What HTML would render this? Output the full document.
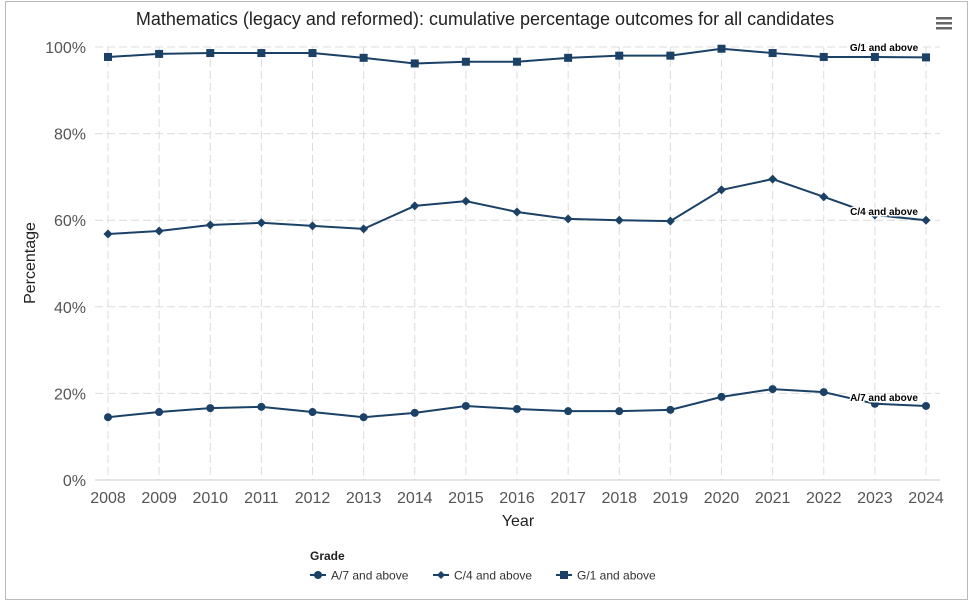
<!DOCTYPE html>
<html><head><meta charset="utf-8"><style>
body{margin:0;background:#fff;font-family:"Liberation Sans",Arial,sans-serif}
</style></head><body>
<svg id="s" width="970" height="605" xmlns="http://www.w3.org/2000/svg" font-family="Liberation Sans, Arial, sans-serif"></svg>
<script>
const s=document.getElementById('s');let h='';
h+='<rect x="5.5" y="1.5" width="962" height="598" fill="#fff" stroke="#bbb"/>';
const X=i=>108+i*51.125, Y=v=>480-v*4.33;
for(let v=20;v<=100;v+=20)h+=`<line x1="95" x2="940" y1="${Y(v)}" y2="${Y(v)}" stroke="#dcdcdc" stroke-dasharray="8,4"/>`;
for(let i=0;i<17;i++)h+=`<line x1="${X(i)}" x2="${X(i)}" y1="${Y(100)}" y2="480" stroke="#dcdcdc" stroke-dasharray="8,4"/>`;
h+='<line x1="95" x2="940" y1="480" y2="480" stroke="#ccc"/>';
for(let v=0;v<=100;v+=20)h+=`<text x="86" y="${Y(v)+6}" text-anchor="end" font-size="16" fill="#555">${v}%</text>`;
for(let i=0;i<17;i++){h+=`<text x="${X(i)}" y="503" text-anchor="middle" font-size="16" fill="#555">${2008+i}</text>`;}
const G=[97.7,98.4,98.6,98.6,98.6,97.5,96.2,96.6,96.6,97.5,98.0,98.0,99.6,98.6,97.7,97.7,97.6];
const C=[56.8,57.5,58.9,59.4,58.7,58.0,63.3,64.4,61.9,60.3,60.0,59.8,67.0,69.5,65.4,61.2,60.0];
const A=[14.5,15.7,16.6,16.9,15.7,14.5,15.5,17.1,16.4,15.9,15.9,16.2,19.2,21.0,20.3,17.6,17.1];
const col='#1b4166';
function ser(d,m){h+=`<polyline fill="none" stroke="${col}" stroke-width="2" points="${d.map((v,i)=>X(i)+','+Y(v)).join(' ')}"/>`;
d.forEach((v,i)=>{const x=X(i),y=Y(v);
if(m==0)h+=`<circle cx="${x}" cy="${y}" r="4" fill="${col}"/>`;
else if(m==1)h+=`<path d="M${x} ${y-4.5}L${x+4.5} ${y}L${x} ${y+4.5}L${x-4.5} ${y}Z" fill="${col}"/>`;
else h+=`<rect x="${x-4}" y="${y-4}" width="8" height="8" fill="${col}"/>`;});}
ser(A,0);ser(C,1);ser(G,2);
const lab=(t,x,y)=>h+=`<text x="${x}" y="${y}" text-anchor="middle" font-size="10" font-weight="bold" stroke="#fff" stroke-width="3" paint-order="stroke" fill="#000">${t}</text>`;
lab('G/1 and above',884,51);lab('C/4 and above',884,215);lab('A/7 and above',884,401);
h+='<text x="485" y="25" text-anchor="middle" font-size="18" fill="#222">Mathematics (legacy and reformed): cumulative percentage outcomes for all candidates</text>';
h+='<text x="518" y="526" text-anchor="middle" font-size="16" fill="#222">Year</text>';
h+='<text transform="translate(35,263) rotate(-90)" text-anchor="middle" font-size="16" fill="#222">Percentage</text>';
h+='<rect x="936" y="17" width="16" height="2.5" fill="#666"/><rect x="936" y="22" width="16" height="2.5" fill="#666"/><rect x="936" y="27" width="16" height="2.5" fill="#666"/>';
h+='<text x="310" y="560" font-size="12" font-weight="bold" fill="#222">Grade</text>';
const L=[[310,'A/7 and above',0],[433,'C/4 and above',1],[556,'G/1 and above',2]];
L.forEach(([x,t,m])=>{const y=575;h+=`<line x1="${x}" x2="${x+16}" y1="${y}" y2="${y}" stroke="${col}" stroke-width="2"/>`;
const c=x+8;if(m==0)h+=`<circle cx="${c}" cy="${y}" r="4" fill="${col}"/>`;else if(m==1)h+=`<path d="M${c} ${y-4}L${c+4} ${y}L${c} ${y+4}L${c-4} ${y}Z" fill="${col}"/>`;else h+=`<rect x="${c-4}" y="${y-4}" width="8" height="8" fill="${col}"/>`;
h+=`<text x="${x+21}" y="${y+4.5}" font-size="12" fill="#333">${t}</text>`;});
s.innerHTML=h;
</script>
</body></html>
